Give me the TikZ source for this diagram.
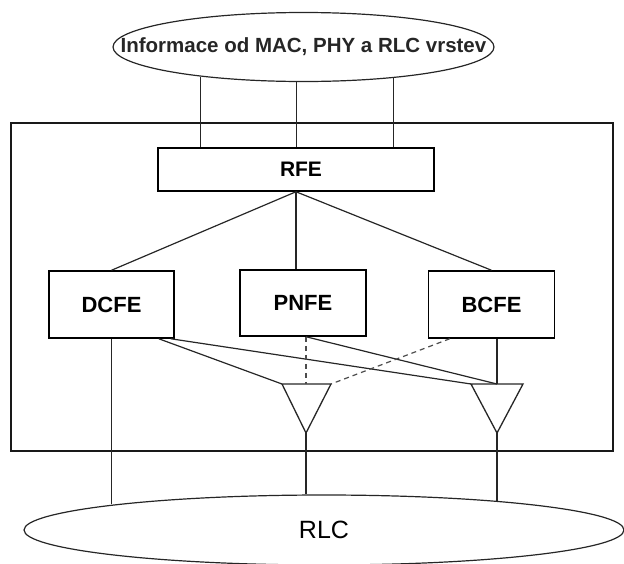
\documentclass[tikz,border=0pt]{standalone}
\usepackage{fontspec}
\setmainfont{Liberation Sans}
\usetikzlibrary{positioning,calc,shapes.geometric}
\tikzset{
  fe/.style={draw=black, line width=1.5pt, minimum height=67pt, inner sep=0pt, font=\fontsize{22}{26}\selectfont\bfseries},
  layer/.style={ellipse, draw=black!85, line width=1.2pt, inner sep=0pt},
  link/.style={line width=1.2pt, black!85},
  dashlink/.style={line width=1.2pt, black!70, dash pattern=on 5pt off 4pt},
  frame/.style={line width=1.8pt, black!90},
  combiner/.style={line width=1.3pt, black!85}
}
\begin{document}
\begin{tikzpicture}[x=1pt, y=-1pt]
  \useasboundingbox (0,0) rectangle (624,563);
  % layers above and below
  \node[layer, minimum width=381pt, minimum height=69pt,
        label={[font=\fontsize{20.5}{25}\selectfont\bfseries, text=black!85]center:{Informace od MAC, PHY a RLC vrstev}}] (info) at (303.5,47) {};
  \node[layer, minimum width=600pt, minimum height=70pt, font=\fontsize{25}{30}\selectfont] (rlc) at (324,530) {RLC};
  % main block
  \draw[frame] (11,123) rectangle (613,451);
  \node[fe, minimum width=276pt, minimum height=43pt, font=\fontsize{21}{25}\selectfont\bfseries] (rfe) at (296,169.5) {\hspace{10pt}RFE};
  \node[fe, minimum width=125pt] (dcfe) at (111.5,304.5) {DCFE};
  \node[fe, minimum width=126pt, minimum height=66pt] (pnfe) at (303,303) {PNFE};
  \node[fe, minimum width=126pt] (bcfe) at (491.5,304.5) {BCFE};
  % combiners
  \coordinate (t1l) at (282,384); \coordinate (t1m) at (306,384);
  \coordinate (t1r) at (331,384); \coordinate (t1a) at (306,433);
  \coordinate (t2l) at (471,384); \coordinate (t2m) at (497,384);
  \coordinate (t2r) at (523,384); \coordinate (t2a) at (497,433);
  \draw[combiner] (t1l) -- (t1r) -- (t1a) -- cycle;
  \draw[combiner] (t2l) -- (t2r) -- (t2a) -- cycle;
  % connectors
  \foreach \a in {196.3,259,-19} \draw[link] (info.\a) -- (info.\a |- rfe.north);
  \draw[link] (rfe.south) -- (dcfe.north);
  \draw[link] (rfe.south) -- (rfe.south |- pnfe.north);
  \draw[link] (rfe.south) -- (bcfe.north);
  \draw[link] ($(dcfe.south east)+(-16,0)$) -- (t1l);
  \draw[link] ($(dcfe.south east)+(-4,0)$) -- (t2l);
  \draw[link] (pnfe.south -| t1m) -- (t2m);
  \draw[dashlink] (pnfe.south -| t1m) -- (t1m);
  \draw[dashlink] ($(bcfe.south west)+(22,0)$) -- (t1r);
  \draw[link] (bcfe.south -| t2m) -- (t2m);
  \draw[link] (dcfe.south) -- (dcfe.south |- rlc.173.4);
  \draw[link] (t1a) -- (t1a |- rlc.north);
  \draw[link] (t2a) -- (t2a |- rlc.9.4);
\end{tikzpicture}
\end{document}
